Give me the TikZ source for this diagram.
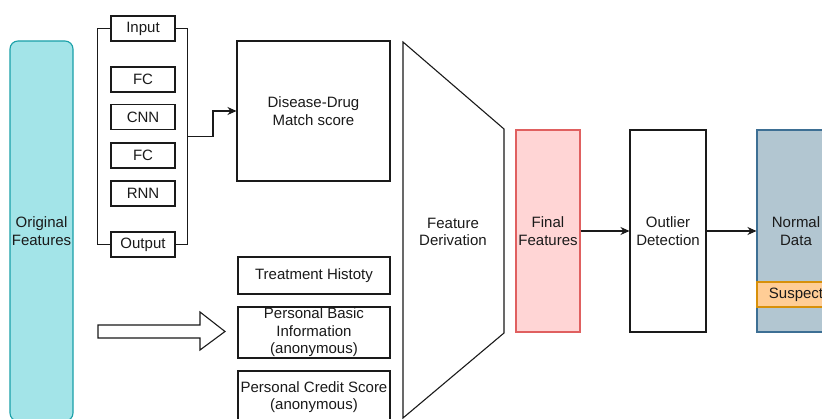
\documentclass[tikz,border=0pt]{standalone}
\usepackage{fontspec}
\setmainfont{Liberation Sans}
\usetikzlibrary{arrows.meta}
\definecolor{origfill}{HTML}{A3E4E8}
\definecolor{origline}{HTML}{1AA0A8}
\definecolor{finfill}{HTML}{FFD5D5}
\definecolor{finline}{HTML}{E06060}
\definecolor{normfill}{HTML}{B2C6D1}
\definecolor{normline}{HTML}{3D6F94}
\definecolor{susfill}{HTML}{FFCD96}
\definecolor{susline}{HTML}{D7900A}
\definecolor{ink}{HTML}{1A1A1A}
\tikzset{
  box/.style={draw=ink, line width=1.1pt, inner sep=0pt, align=center, text=ink,
    font=\fontsize{15}{17.5}\selectfont},
  conn/.style={draw=ink, line width=1.1pt},
  arr/.style={conn, -{Stealth[length=9pt,width=8pt]}},
}
\begin{document}
\begin{tikzpicture}[x=1pt,y=-1pt]
\clip (0,0) rectangle (822,419);
\fill[white] (0,0) rectangle (822,419);
% Original features
\node[box, draw=origline, fill=origfill, rounded corners=8pt, minimum width=63pt, minimum height=380pt] (orig) at (41.5,231) {Original\\Features};
% network stack
\node[box, minimum width=64pt, minimum height=25pt] (inp) at (143,28.5) {Input};
\node[box, minimum width=64pt, minimum height=25pt] (fc1) at (143,79.5) {FC};
\node[box, minimum width=64pt, minimum height=25pt] (cnn) at (143,117) {CNN};
\node[box, minimum width=64pt, minimum height=25pt] (fc2) at (143,155.5) {FC};
\node[box, minimum width=64pt, minimum height=25pt] (rnn) at (143,193.5) {RNN};
\node[box, minimum width=64pt, minimum height=25pt] (outp) at (143,244.5) {Output};
\draw[conn] (inp.west) -- ++(-13,0) |- (outp.west);
\draw[conn] (inp.east) -- ++(12,0) |- (outp.east);
\coordinate (brR) at (187,136.5);
% disease-drug
\node[box, minimum width=153pt, minimum height=140pt] (ddm) at (313.5,111) {Disease-Drug\\Match score};
\draw[arr] (brR) -- ++(26,0) |- (ddm.west);
% lower boxes
\node[box, minimum width=152pt, minimum height=37pt] (trt) at (314,275.5) {Treatment Histoty};
\node[box, minimum width=152pt, minimum height=51pt] (pbi) at (314,332.5) {Personal Basic\\Information\\(anonymous)};
\node[box, minimum width=152pt, minimum height=52pt] (pcs) at (314,397) {Personal Credit Score\\(anonymous)};
% block arrow
\coordinate (ba) at (98,331.5);
\draw[conn, fill=white] (ba) ++(0,-6.5) -- ++(102,0) -- ++(0,-13) -- (225,331.5) -- (200,350) -- (200,338) -- (98,338) -- cycle;
% trapezoid
\draw[conn, fill=white] (403,42) -- (504,129) -- (504,333) -- (403,418) -- cycle;
\node[box, draw=none] (fd) at (453,232) {Feature\\Derivation};
% final features etc.
\node[box, draw=finline, fill=finfill, minimum width=64pt, minimum height=202pt] (ff) at (548,231) {Final\\Features};
\node[box, minimum width=76pt, minimum height=202pt] (od) at (668,231) {Outlier\\Detection};
\node[box, draw=normline, fill=normfill, minimum width=78pt, minimum height=202pt] (nd) at (796,231) {Normal\\Data};
\node[box, draw=susline, fill=susfill, minimum width=78pt, minimum height=25pt] (sus) at (796,294.5) {Suspect};
\draw[arr] (ff) -- (od);
\draw[arr] (od) -- (nd);
\end{tikzpicture}
\end{document}
